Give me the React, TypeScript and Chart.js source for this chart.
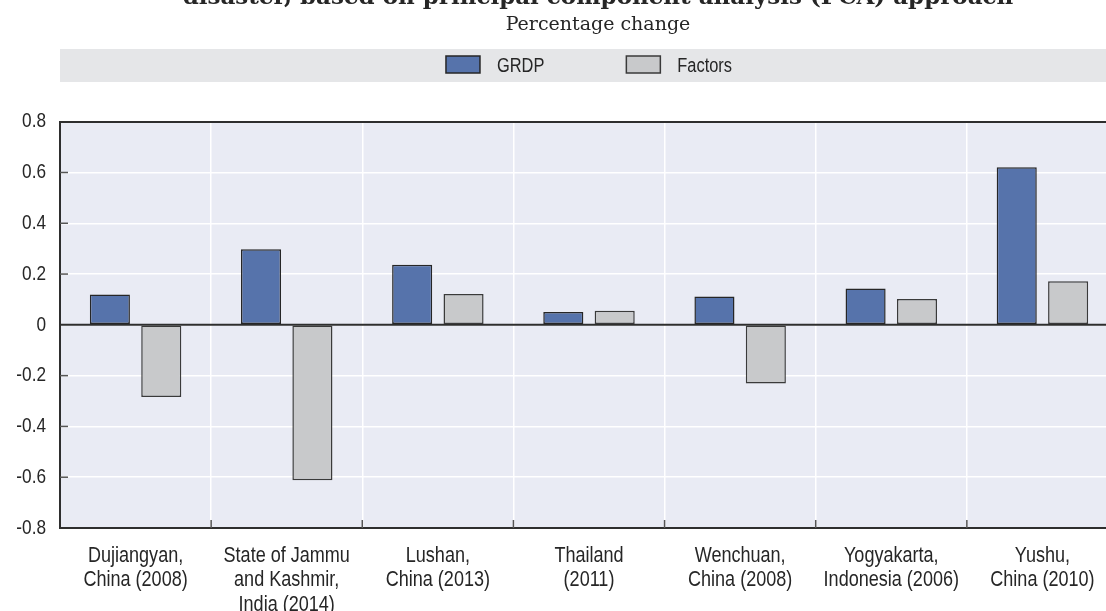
import React, { useEffect, useRef } from "react";
import { Chart, registerables } from "chart.js";

Chart.register(...registerables);

const TITLE = "disaster, based on principal component analysis (PCA) approach";
const SUBTITLE = "Percentage change";

const CATEGORIES: string[][] = [
  ["Dujiangyan,", "China (2008)"],
  ["State of Jammu", "and Kashmir,", "India (2014)"],
  ["Lushan,", "China (2013)"],
  ["Thailand", "(2011)"],
  ["Wenchuan,", "China (2008)"],
  ["Yogyakarta,", "Indonesia (2006)"],
  ["Yushu,", "China (2010)"],
];

const SERIES_NAMES = ["GRDP", "Factors"];
const GRDP = [0.12, 0.298, 0.237, 0.051, 0.112, 0.143, 0.621];
const FACTORS = [-0.284, -0.612, 0.121, 0.056, -0.231, 0.102, 0.172];

const Y_TICKS = [-0.8, -0.6, -0.4, -0.2, 0, 0.2, 0.4, 0.6, 0.8];
const Y_TICK_LABELS = ["-0.8", "-0.6", "-0.4", "-0.2", "0", "0.2", "0.4", "0.6", "0.8"];

const BLUE = "#5673ab";
const GREY = "#c8c9cb";
const PLOT_BG = "#e9ebf4";
const BAND_BG = "#e5e6e8";
const AXIS = "#2e2e2e";
const TEXT = "#262626";
const SERIF = "'DejaVu Serif', serif";
const SANS = "'Liberation Sans', Arial, sans-serif";
const NARROW_RATIO = 0.82;

const CANVAS_W = 1196;
const CANVAS_H = 627;
const OFFSET_TOP = -16;

const decorPlugin = {
  id: "decor",
  beforeInit(chart: any) {
    // condense the sans-serif text horizontally (Arial Narrow look)
    const ctx = chart.ctx;
    if (ctx.__narrowPatched) return;
    const orig = ctx.fillText.bind(ctx);
    ctx.fillText = (text: string, x: number, y: number, maxWidth?: number) => {
      if (String(ctx.font).includes("Liberation Sans")) {
        const w = ctx.measureText(text).width * NARROW_RATIO;
        const mw = maxWidth !== undefined ? Math.min(maxWidth, w) : w;
        return orig(text, x, y, Math.max(mw, 0.01));
      }
      return maxWidth !== undefined ? orig(text, x, y, maxWidth) : orig(text, x, y);
    };
    ctx.__narrowPatched = true;
  },
  beforeDraw(chart: any) {
    const { ctx, chartArea } = chart;
    ctx.save();
    ctx.fillStyle = PLOT_BG;
    ctx.fillRect(chartArea.left, chartArea.top, chartArea.right - chartArea.left, chartArea.bottom - chartArea.top);
    const bandTop = chartArea.top - 72.7;
    const bandBottom = chartArea.top - 39.7;
    ctx.fillStyle = BAND_BG;
    ctx.fillRect(chartArea.left, bandTop, chart.width - chartArea.left, bandBottom - bandTop);
    ctx.font = `20px ${SANS}`;
    ctx.textBaseline = "alphabetic";
    ctx.textAlign = "left";
    const boxW = 34;
    const boxH = 17;
    const gapText = 17;
    const gapItem = 82;
    const ds = chart.data.datasets;
    const widths = ds.map((d: any) => boxW + gapText + ctx.measureText(d.label).width * NARROW_RATIO);
    const total = widths.reduce((a: number, b: number) => a + b, 0) + gapItem * (ds.length - 1);
    let x = (chartArea.left + chartArea.right) / 2 - total / 2;
    const boxY = bandTop + 7;
    ds.forEach((d: any, i: number) => {
      ctx.fillStyle = d.backgroundColor;
      ctx.fillRect(x, boxY, boxW, boxH);
      ctx.lineWidth = 1.5;
      ctx.strokeStyle = d.borderColor;
      ctx.strokeRect(x, boxY, boxW, boxH);
      ctx.fillStyle = TEXT;
      ctx.fillText(d.label, x + boxW + gapText, boxY + 16);
      x += widths[i] + gapItem;
    });
    ctx.restore();
  },
  beforeDatasetsDraw(chart: any) {
    const { ctx, chartArea, scales } = chart;
    ctx.save();
    ctx.strokeStyle = "#555";
    ctx.lineWidth = 1.5;
    Y_TICKS.forEach((v) => {
      if (v === 0 || v === 0.8 || v === -0.8) return;
      const y = scales.y.getPixelForValue(v);
      ctx.beginPath();
      ctx.moveTo(chartArea.left, y);
      ctx.lineTo(chartArea.left + 8, y);
      ctx.stroke();
    });
    for (let i = 1; i < CATEGORIES.length; i++) {
      const x = (scales.x.getPixelForValue(i - 1) + scales.x.getPixelForValue(i)) / 2;
      ctx.beginPath();
      ctx.moveTo(x, chartArea.bottom);
      ctx.lineTo(x, chartArea.bottom - 8);
      ctx.stroke();
    }
    const y0 = scales.y.getPixelForValue(0);
    ctx.strokeStyle = AXIS;
    ctx.lineWidth = 2;
    ctx.beginPath();
    ctx.moveTo(chartArea.left, y0);
    ctx.lineTo(chartArea.right, y0);
    ctx.stroke();
    ctx.restore();
  },
};

export default function App() {
  const ref = useRef<HTMLCanvasElement | null>(null);

  useEffect(() => {
    if (!ref.current) return;
    const chart = new Chart(ref.current, {
      type: "bar",
      data: {
        labels: CATEGORIES,
        datasets: [
          {
            label: SERIES_NAMES[0],
            data: GRDP,
            backgroundColor: BLUE,
            borderColor: "#262626",
            borderWidth: 1.5,
            borderSkipped: false,
            categoryPercentage: 0.68,
            barPercentage: 0.78,
          },
          {
            label: SERIES_NAMES[1],
            data: FACTORS,
            backgroundColor: GREY,
            borderColor: "#3a3a3a",
            borderWidth: 1.5,
            borderSkipped: false,
            categoryPercentage: 0.68,
            barPercentage: 0.78,
          },
        ],
      },
      options: {
        responsive: false,
        animation: false,
        layout: { padding: { left: 0, right: 0, top: 0, bottom: 0 } },
        plugins: {
          legend: { display: false },
          tooltip: { enabled: false },
          title: {
            display: true,
            text: TITLE,
            color: TEXT,
            font: { family: SERIF, size: 23, weight: "bold", lineHeight: 1.2 },
            padding: { top: 0, bottom: 2 },
          },
          subtitle: {
            display: true,
            text: SUBTITLE,
            color: TEXT,
            font: { family: SERIF, size: 19, weight: "normal", lineHeight: 1.2 },
            padding: { top: 0, bottom: 85.3 },
          },
        },
        scales: {
          x: {
            offset: true,
            grid: { offset: true, color: "#ffffff", lineWidth: 1.5, drawTicks: false },
            border: { display: true, color: AXIS, width: 2 },
            ticks: {
              color: TEXT,
              padding: 16,
              maxRotation: 0,
              autoSkip: false,
              font: { family: SANS, size: 22, lineHeight: 1.1 },
            },
            afterFit: (s: any) => {
              s.height = 83;
            },
          },
          y: {
            min: -0.8,
            max: 0.8,
            afterBuildTicks: (s: any) => {
              s.ticks = Y_TICKS.map((v) => ({ value: v }));
            },
            grid: {
              color: (c: any) => (c.tick && c.tick.value === 0.8 ? AXIS : "#ffffff"),
              lineWidth: (c: any) => (c.tick && c.tick.value === 0.8 ? 2 : 1.5),
              drawTicks: false,
            },
            border: { display: true, color: AXIS, width: 2 },
            ticks: {
              color: TEXT,
              padding: 14,
              font: { family: SANS, size: 21 },
              callback: (v: any) => {
                const i = Y_TICKS.findIndex((t) => Math.abs(t - Number(v)) < 1e-9);
                return i >= 0 ? Y_TICK_LABELS[i] : "";
              },
            },
            afterFit: (s: any) => {
              s.width = 60;
            },
          },
          yRight: {
            type: "linear",
            position: "right",
            display: true,
            grid: { display: false, drawTicks: false },
            border: { display: false },
            ticks: { display: false },
            afterFit: (s: any) => {
              s.width = 78;
            },
          },
        },
      },
      plugins: [decorPlugin],
    });
    return () => chart.destroy();
  }, []);

  return (
    <div style={{ position: "fixed", left: 0, top: OFFSET_TOP, width: CANVAS_W, height: CANVAS_H }}>
      <canvas ref={ref} width={CANVAS_W} height={CANVAS_H} style={{ display: "block", width: CANVAS_W, height: CANVAS_H }} />
    </div>
  );
}
